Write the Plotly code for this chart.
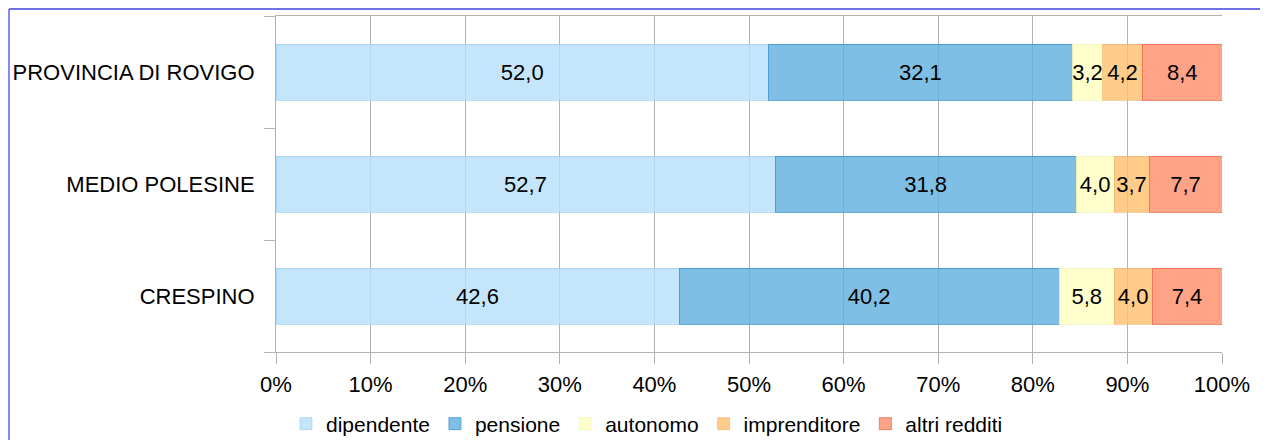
import plotly.graph_objects as go

categories = ["CRESPINO", "MEDIO POLESINE", "PROVINCIA DI ROVIGO"]
series_names = ["dipendente", "pensione", "autonomo", "imprenditore", "altri redditi"]
dipendente = [42.6, 52.7, 52.0]
pensione = [40.2, 31.8, 32.1]
autonomo = [5.8, 4.0, 3.2]
imprenditore = [4.0, 3.7, 4.2]
altri_redditi = [7.4, 7.7, 8.4]
x_tick_values = [0, 10, 20, 30, 40, 50, 60, 70, 80, 90, 100]
x_tick_labels = ["0%", "10%", "20%", "30%", "40%", "50%", "60%", "70%", "80%", "90%", "100%"]

series_values = [dipendente, pensione, autonomo, imprenditore, altri_redditi]
fill_colors = [
    "rgba(182,222,250,0.8)",
    "rgba(95,175,222,0.8)",
    "rgba(255,255,191,0.8)",
    "rgba(255,191,109,0.8)",
    "rgba(255,140,104,0.8)",
]
edge_colors = [
    "rgba(150,200,235,0.6)",
    "rgba(70,150,205,0.8)",
    "rgba(240,240,170,0.6)",
    "rgba(240,175,100,0.6)",
    "rgba(240,110,80,0.8)",
]

FONT = "Liberation Sans, Arial, sans-serif"
FS = 22
LFS = 21
GRID = "#b3b3b3"

# page body has an 8px margin: figure sits at (8, 8) on screen
OFF = 8
W, H = 1252, 432
PL, PR, PT, PB = 276, 1222, 16, 352  # target plot area in screen pixels
PW, PH = PR - PL, PB - PT

fig = go.Figure()
for name, vals, fc, ec in zip(series_names, series_values, fill_colors, edge_colors):
    fig.add_trace(go.Bar(
        name=name,
        y=categories,
        x=vals,
        orientation="h",
        marker=dict(color=fc, line=dict(color=ec, width=1)),
        text=[f"{v:.1f}".replace(".", ",") for v in vals],
        textposition="inside",
        insidetextanchor="middle",
        textangle=0,
        textfont=dict(family=FONT, size=FS, color="#000000"),
        hoverinfo="skip",
    ))

fig.update_layout(
    barmode="stack",
    barnorm="percent",
    bargap=0.5,
    width=W,
    height=H,
    margin=dict(l=PL - OFF, r=OFF + W - PR, t=PT - OFF, b=OFF + H - PB, autoexpand=False),
    paper_bgcolor="white",
    plot_bgcolor="white",
    font=dict(family=FONT, size=FS, color="#000000"),
    uniformtext=dict(minsize=FS, mode="show"),
    showlegend=True,
    legend=dict(
        orientation="h",
        x=(647 - PL) / PW, xanchor="center",
        y=-(424 - PB) / PH, yanchor="middle",
        font=dict(family=FONT, size=LFS, color="#000000"),
        traceorder="normal",
        itemwidth=30,
        bgcolor="rgba(0,0,0,0)",
    ),
    xaxis=dict(
        range=[0, 100],
        tickvals=x_tick_values,
        ticktext=x_tick_labels,
        showgrid=True,
        gridcolor=GRID,
        gridwidth=1,
        zeroline=False,
        showline=True,
        linecolor=GRID,
        linewidth=1,
        mirror=True,
        ticks="outside",
        ticklen=11,
        tickcolor=GRID,
        ticklabelstandoff=2,
        tickfont=dict(family=FONT, size=FS, color="#000000"),
        fixedrange=True,
    ),
    yaxis=dict(
        categoryorder="array",
        categoryarray=categories,
        showgrid=False,
        showline=True,
        linecolor=GRID,
        linewidth=1,
        ticks="outside",
        ticklen=11,
        tickcolor=GRID,
        tickson="boundaries",
        ticklabelstandoff=16,
        tickfont=dict(family=FONT, size=FS, color="#000000"),
        fixedrange=True,
    ),
)

# blue frame: only its top and left edges are visible in the picture
frame_x0 = (9 - PL) / PW
frame_y1 = 1 + (PT - 9) / PH
fig.add_shape(
    type="line", xref="paper", yref="paper",
    x0=frame_x0, x1=(1400 - PL) / PW, y0=frame_y1, y1=frame_y1,
    line=dict(color="#4040d8", width=1.5), layer="above",
)
fig.add_shape(
    type="line", xref="paper", yref="paper",
    x0=frame_x0, x1=frame_x0, y0=frame_y1, y1=-(600 - PB) / PH,
    line=dict(color="#6060f0", width=1.5), layer="above",
)

fig.write_html("out.html")
